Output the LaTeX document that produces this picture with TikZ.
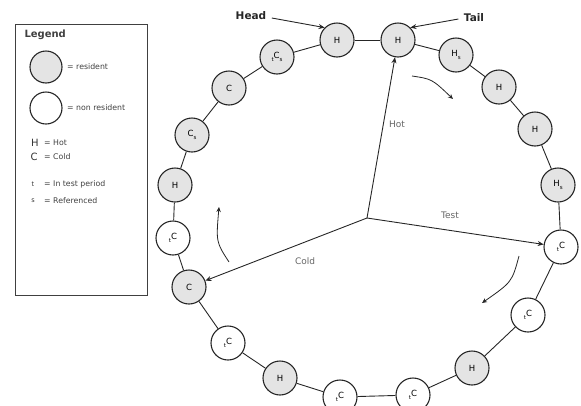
\documentclass[tikz,border=0pt]{standalone}
\usepackage{fontspec}
\setmainfont{DejaVu Sans}
\usetikzlibrary{arrows.meta}
\definecolor{resfill}{HTML}{E4E4E4}
\definecolor{inkline}{HTML}{262626}
\newcommand\lowsub[1]{\raisebox{-2.6pt}{\fontsize{5.5}{6}\selectfont #1}}
\begin{document}
\begin{tikzpicture}[x=1pt,y=-1pt,
  slot/.style={circle,draw=inkline,line width=1.1pt,minimum size=34pt,inner sep=0pt,
    font=\fontsize{8.5}{9}\selectfont},
  res/.style={slot,fill=resfill},
  non/.style={slot,fill=white},
  link/.style={draw=inkline,line width=0.9pt},
  ptr/.style={draw=inkline,line width=0.9pt,-{Stealth[length=6pt,width=5pt]}},
  turn/.style={draw=inkline,line width=0.8pt,-{Stealth[length=5pt,width=4.5pt]}},
  tag/.style={font=\fontsize{10.5}{12}\selectfont\bfseries,text=inkline},
  sector/.style={font=\fontsize{9}{10}\selectfont,text=black!60},
  legtext/.style={font=\fontsize{7.8}{9}\selectfont,text=black!75,anchor=west,inner sep=0pt},
  legsym/.style={font=\fontsize{10}{11}\selectfont,text=black!80,inner sep=0pt}
]
\useasboundingbox (0,0) rectangle (581,405);
\clip (0,0) rectangle (581,405);

% legend
\node[draw=black!75,line width=1.1pt,minimum width=132pt,minimum height=271pt,inner sep=0pt,
  anchor=north west] (legend) at (15,24) {};
\node[anchor=west,font=\fontsize{10}{11}\selectfont\bfseries,text=black!75] (legtitle) at (21,35) {Legend};
\node[res,minimum size=32pt] (legres) at (46,67) {};
\node[non,minimum size=32pt] (legnon) at (46,108) {};
\node[legtext] (legrestxt) at (67,67) {= resident};
\node[legtext] (legnontxt) at (67,108) {= non resident};
\node[legsym] (legH) at (35,143) {H};
\node[legtext] (legHtxt) at (44,143) {= Hot};
\node[legsym] (legC) at (34,157) {C};
\node[legtext] (legCtxt) at (44,157) {= Cold};
\node[legsym,font=\fontsize{6.5}{7}\selectfont] (legt) at (33,184) {t};
\node[legtext] (legttxt) at (44,184) {= In test period};
\node[legsym,font=\fontsize{6.5}{7}\selectfont] (legs) at (33,201) {s};
\node[legtext] (legstxt) at (44,201) {= Referenced};

% the ring of pages
\node[res] (n1)  at (337,40)  {H};
\node[res] (n2)  at (398,40)  {H};
\node[res] (n3)  at (456,55)  {H\lowsub{s}};
\node[res] (n4)  at (499,87)  {H};
\node[res] (n5)  at (535,129) {H};
\node[res] (n6)  at (558,185) {H\lowsub{s}};
\node[non] (n7)  at (561,247) {\lowsub{t}C};
\node[non] (n8)  at (528,315) {\lowsub{t}C};
\node[res] (n9)  at (472,368) {H};
\node[non] (n10) at (413,395) {\lowsub{t}C};
\node[non] (n11) at (340,397) {\lowsub{t}C};
\node[res] (n12) at (280,378) {H};
\node[non] (n13) at (228,343) {\lowsub{t}C};
\node[res] (n14) at (189,287) {C};
\node[non] (n15) at (173,238) {\lowsub{t}C};
\node[res] (n16) at (175,185) {H};
\node[res] (n17) at (192,135) {C\lowsub{s}};
\node[res] (n18) at (229,88)  {C};
\node[res] (n19) at (277,57)  {\lowsub{t}C\lowsub{s}};

\foreach \a/\b in {n1/n2,n2/n3,n3/n4,n4/n5,n5/n6,n6/n7,n7/n8,n8/n9,n9/n10,n10/n11,
  n11/n12,n12/n13,n13/n14,n14/n15,n15/n16,n16/n17,n17/n18,n18/n19,n19/n1}
  \draw[link] (\a) -- (\b);

% the three clock hands
\coordinate (hub) at (367,218);
\draw[ptr] (hub) -- (n2);
\draw[ptr] (hub) -- (n7);
\draw[ptr] (hub) -- (n14);
\node[sector] (lhot)  at (397,124) {Hot};
\node[sector] (ltest) at (450,215) {Test};
\node[sector] (lcold) at (305,261) {Cold};

% direction of movement
\coordinate (hotA) at (412,76);  \coordinate (hotB) at (453,99);
\coordinate (tstA) at (519,256); \coordinate (tstB) at (482,303);
\coordinate (cldA) at (229,262); \coordinate (cldB) at (219,207);
\draw[turn] (hotA) .. controls (432,79) .. (hotB);
\draw[turn] (tstA) .. controls (512,282) .. (tstB);
\draw[turn] (cldA) .. controls (216,242) .. (cldB);

% head and tail pointers
\node[tag] (head) at (251,16) {Head};
\node[tag] (tail) at (474,18) {Tail};
\draw[ptr] (head.east) ++(2,2) coordinate (headS) -- (n1.north west);
\draw[ptr] (tail.west) ++(-2,1) coordinate (tailS) -- (n2.north east);
\end{tikzpicture}
\end{document}
